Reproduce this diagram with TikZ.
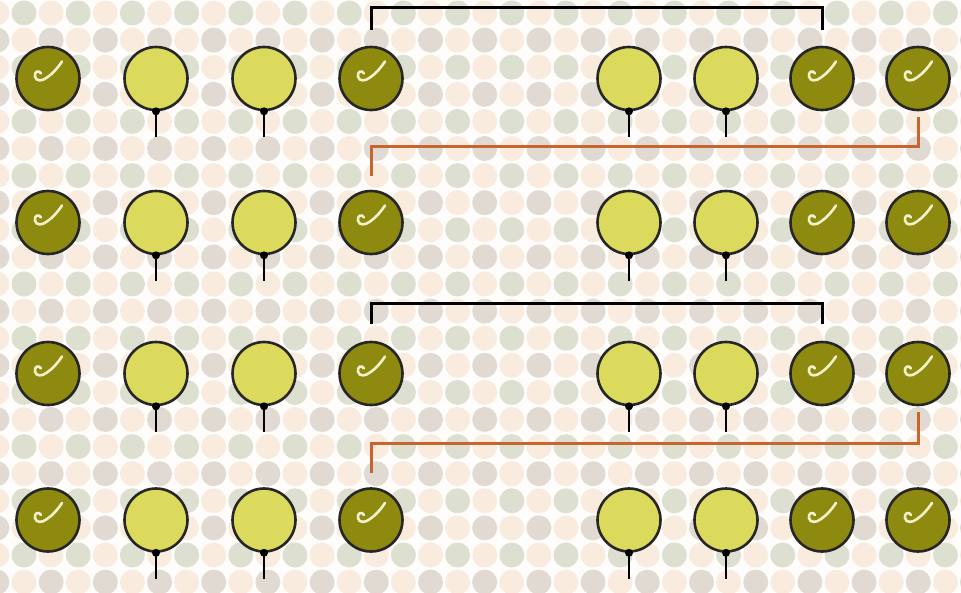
\documentclass[tikz,border=0pt]{standalone}
\definecolor{ballolive}{HTML}{8E8A10}
\definecolor{ballyellow}{HTML}{DCDA5C}
\definecolor{bgbeige}{HTML}{F9ECDF}
\definecolor{bggreen}{HTML}{DDE0D1}
\definecolor{bgmauve}{HTML}{E0DAD3}
\definecolor{bgwhite}{HTML}{FEFDFB}
\definecolor{linkorange}{HTML}{C8642D}
\definecolor{swirlcream}{HTML}{F3F0CC}
\begin{document}
\begin{tikzpicture}[x=1pt,y=-1pt,
    darkball/.style={circle,draw=black!85,line width=2.6pt,fill=ballolive,minimum size=63pt,inner sep=0pt},
    lightball/.style={darkball,fill=ballyellow},
    link/.style={line width=3pt},
    swirl/.pic={\draw[swirlcream,line width=2.6pt,line cap=round] (-7,-5) .. controls (-9,-9) and (-14,-7) .. (-13,-2) .. controls (-12,3) and (-6,3) .. (-1,-1) .. controls (5,-5) and (10,-11) .. (14,-17);}]
    \useasboundingbox (0,0) rectangle (961,592);
    % dotted background
    \fill[bgwhite] (0,0) rectangle (961,592);
    \begin{scope}
        \clip (0,0) rectangle (961,592);
        \foreach \r in {0,2,...,22} {
            \foreach \k in {0,2,...,34} \fill[bggreen] ({24+27.1*\k},{13+27.1*\r}) circle (12.5pt);
            \foreach \k in {-1,1,...,35} \fill[bgbeige] ({24+27.1*\k},{13+27.1*\r}) circle (12.5pt);
        }
        \foreach \r in {1,3,...,21} {
            \foreach \k in {0,2,...,34} \fill[bgbeige] ({24+27.1*\k},{13+27.1*\r}) circle (12.5pt);
            \foreach \k in {-1,1,...,35} \fill[bgmauve] ({24+27.1*\k},{13+27.1*\r}) circle (12.5pt);
        }
    \end{scope}
    % balls
    \foreach \y [count=\r] in {78.5,222.5,373.5,520} {
        \foreach \x/\c in {48/1,371/4,822/7,918/8} {
            \node[darkball] (b\r-\c) at (\x,\y) {};
            \pic at (b\r-\c) {swirl};
        }
        \foreach \x/\c in {156/2,264/3,629/5,726/6} {
            \node[lightball] (b\r-\c) at (\x,\y) {};
            \draw[line width=2.8pt] (b\r-\c.south) -- ++(0,26);
            \fill (b\r-\c.south) circle (4pt);
        }
    }
    % links
    \draw[link] ([yshift=16pt]b1-4.north) -- ++(0,-22) -| ([yshift=16pt]b1-7.north);
    \draw[link,linkorange] ([yshift=-6pt]b1-8.south) -- ++(0,29) -| ([yshift=14pt]b2-4.north);
    \draw[link] ([yshift=17pt]b3-4.north) -- ++(0,-20) -| ([yshift=17pt]b3-7.north);
    \draw[link,linkorange] ([yshift=-6pt]b3-8.south) -- ++(0,31) -| ([yshift=14pt]b4-4.north);
\end{tikzpicture}
\end{document}
